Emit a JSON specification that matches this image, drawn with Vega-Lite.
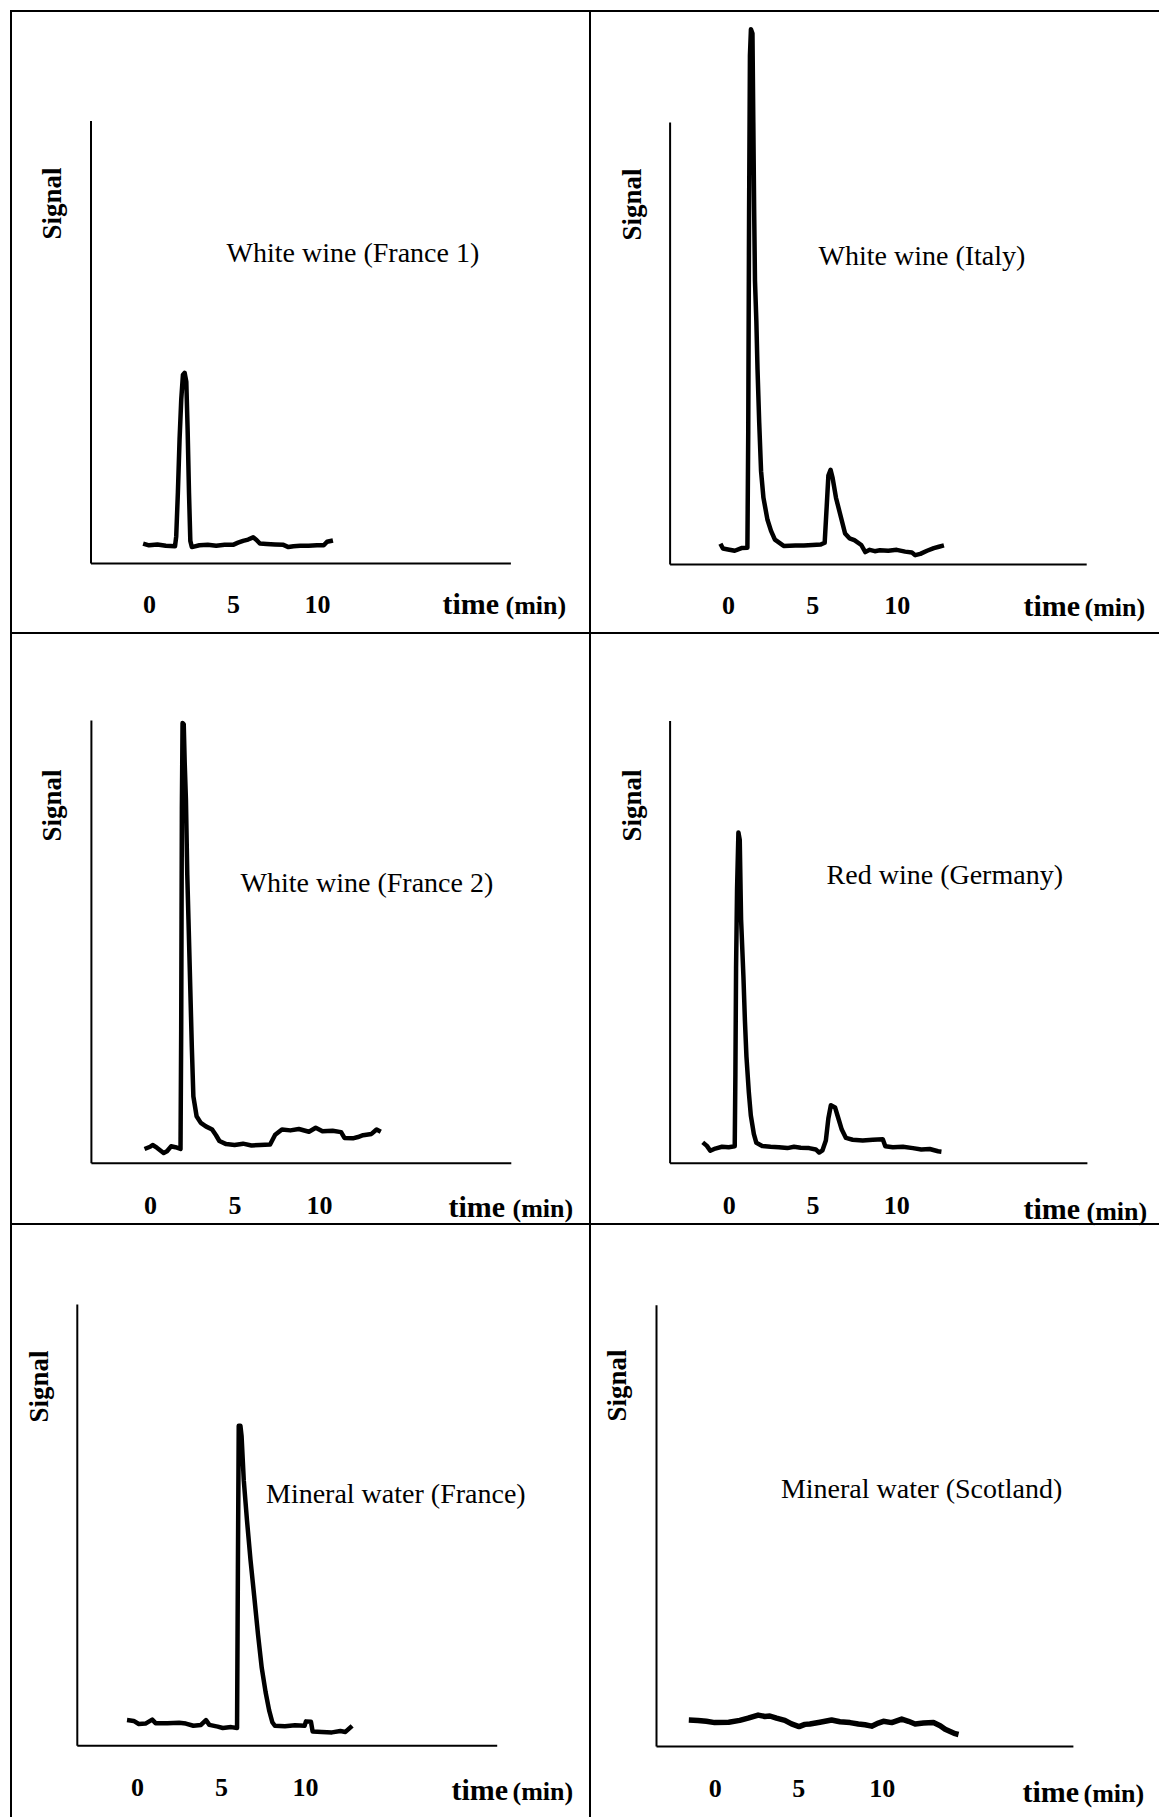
{
  "$schema": "https://vega.github.io/schema/vega-lite/v6.json",
  "padding": {"left": 10, "top": 10, "right": 0, "bottom": 0},
  "background": "white",
  "columns": 2,
  "spacing": 0,
  "bounds": "flush",
  "align": "each",
  "config": {"view": {"stroke": "black", "strokeWidth": 2}},
  "datasets": {
    "chrom": [
      {"sample": "White wine (France 1)", "t": -0.35, "s": 4.4},
      {"sample": "White wine (France 1)", "t": 0.0, "s": 4.0},
      {"sample": "White wine (France 1)", "t": 0.5, "s": 4.2},
      {"sample": "White wine (France 1)", "t": 1.0, "s": 3.9},
      {"sample": "White wine (France 1)", "t": 1.55, "s": 3.8},
      {"sample": "White wine (France 1)", "t": 1.62, "s": 6},
      {"sample": "White wine (France 1)", "t": 1.72, "s": 16},
      {"sample": "White wine (France 1)", "t": 1.82, "s": 28},
      {"sample": "White wine (France 1)", "t": 1.92, "s": 37},
      {"sample": "White wine (France 1)", "t": 2.02, "s": 42.5},
      {"sample": "White wine (France 1)", "t": 2.12, "s": 43},
      {"sample": "White wine (France 1)", "t": 2.22, "s": 41},
      {"sample": "White wine (France 1)", "t": 2.3, "s": 30},
      {"sample": "White wine (France 1)", "t": 2.38, "s": 16},
      {"sample": "White wine (France 1)", "t": 2.46, "s": 5},
      {"sample": "White wine (France 1)", "t": 2.55, "s": 3.6},
      {"sample": "White wine (France 1)", "t": 3.0, "s": 4.0},
      {"sample": "White wine (France 1)", "t": 3.5, "s": 4.1},
      {"sample": "White wine (France 1)", "t": 4.0, "s": 3.9},
      {"sample": "White wine (France 1)", "t": 4.5, "s": 4.1},
      {"sample": "White wine (France 1)", "t": 5.0, "s": 4.1},
      {"sample": "White wine (France 1)", "t": 5.3, "s": 4.6},
      {"sample": "White wine (France 1)", "t": 5.6, "s": 5.0},
      {"sample": "White wine (France 1)", "t": 5.9, "s": 5.3},
      {"sample": "White wine (France 1)", "t": 6.2, "s": 5.8},
      {"sample": "White wine (France 1)", "t": 6.4, "s": 5.2},
      {"sample": "White wine (France 1)", "t": 6.6, "s": 4.4},
      {"sample": "White wine (France 1)", "t": 7.0, "s": 4.3},
      {"sample": "White wine (France 1)", "t": 7.5, "s": 4.2},
      {"sample": "White wine (France 1)", "t": 8.0, "s": 4.1},
      {"sample": "White wine (France 1)", "t": 8.3, "s": 3.6},
      {"sample": "White wine (France 1)", "t": 8.6, "s": 3.8},
      {"sample": "White wine (France 1)", "t": 9.0, "s": 3.9},
      {"sample": "White wine (France 1)", "t": 9.5, "s": 3.9},
      {"sample": "White wine (France 1)", "t": 10.0, "s": 4.0},
      {"sample": "White wine (France 1)", "t": 10.4, "s": 4.0},
      {"sample": "White wine (France 1)", "t": 10.6, "s": 4.8},
      {"sample": "White wine (France 1)", "t": 10.95, "s": 5.1},

      {"sample": "White wine (Italy)", "t": -0.45, "s": 4.6},
      {"sample": "White wine (Italy)", "t": -0.3, "s": 3.5},
      {"sample": "White wine (Italy)", "t": 0.0, "s": 3.3},
      {"sample": "White wine (Italy)", "t": 0.4, "s": 3.0},
      {"sample": "White wine (Italy)", "t": 0.8, "s": 3.6},
      {"sample": "White wine (Italy)", "t": 1.15, "s": 3.7},
      {"sample": "White wine (Italy)", "t": 1.2, "s": 30},
      {"sample": "White wine (Italy)", "t": 1.25, "s": 80},
      {"sample": "White wine (Italy)", "t": 1.3, "s": 115},
      {"sample": "White wine (Italy)", "t": 1.36, "s": 121},
      {"sample": "White wine (Italy)", "t": 1.45, "s": 120},
      {"sample": "White wine (Italy)", "t": 1.5, "s": 100},
      {"sample": "White wine (Italy)", "t": 1.55, "s": 80},
      {"sample": "White wine (Italy)", "t": 1.6, "s": 64},
      {"sample": "White wine (Italy)", "t": 1.68, "s": 55},
      {"sample": "White wine (Italy)", "t": 1.75, "s": 44},
      {"sample": "White wine (Italy)", "t": 1.85, "s": 32},
      {"sample": "White wine (Italy)", "t": 1.96, "s": 21},
      {"sample": "White wine (Italy)", "t": 2.1, "s": 15},
      {"sample": "White wine (Italy)", "t": 2.34, "s": 10},
      {"sample": "White wine (Italy)", "t": 2.55, "s": 7.5},
      {"sample": "White wine (Italy)", "t": 2.78, "s": 5.5},
      {"sample": "White wine (Italy)", "t": 3.3, "s": 4.1},
      {"sample": "White wine (Italy)", "t": 4.0, "s": 4.2},
      {"sample": "White wine (Italy)", "t": 4.5, "s": 4.2},
      {"sample": "White wine (Italy)", "t": 5.0, "s": 4.3},
      {"sample": "White wine (Italy)", "t": 5.5, "s": 4.4},
      {"sample": "White wine (Italy)", "t": 5.73, "s": 4.8},
      {"sample": "White wine (Italy)", "t": 5.85, "s": 13},
      {"sample": "White wine (Italy)", "t": 5.95, "s": 20},
      {"sample": "White wine (Italy)", "t": 6.08, "s": 21.3},
      {"sample": "White wine (Italy)", "t": 6.2, "s": 19.5},
      {"sample": "White wine (Italy)", "t": 6.4, "s": 15},
      {"sample": "White wine (Italy)", "t": 6.6, "s": 12},
      {"sample": "White wine (Italy)", "t": 6.94, "s": 6.9},
      {"sample": "White wine (Italy)", "t": 7.2, "s": 5.8},
      {"sample": "White wine (Italy)", "t": 7.49, "s": 5.4},
      {"sample": "White wine (Italy)", "t": 7.9, "s": 4.3},
      {"sample": "White wine (Italy)", "t": 8.14, "s": 2.7},
      {"sample": "White wine (Italy)", "t": 8.4, "s": 3.2},
      {"sample": "White wine (Italy)", "t": 8.7, "s": 2.9},
      {"sample": "White wine (Italy)", "t": 9.0, "s": 3.1},
      {"sample": "White wine (Italy)", "t": 9.5, "s": 3.0},
      {"sample": "White wine (Italy)", "t": 10.0, "s": 3.2},
      {"sample": "White wine (Italy)", "t": 10.5, "s": 2.8},
      {"sample": "White wine (Italy)", "t": 10.9, "s": 2.6},
      {"sample": "White wine (Italy)", "t": 11.1, "s": 2.0},
      {"sample": "White wine (Italy)", "t": 11.4, "s": 2.3},
      {"sample": "White wine (Italy)", "t": 11.8, "s": 3.0},
      {"sample": "White wine (Italy)", "t": 12.2, "s": 3.6},
      {"sample": "White wine (Italy)", "t": 12.5, "s": 3.9},
      {"sample": "White wine (Italy)", "t": 12.8, "s": 4.2},

      {"sample": "White wine (France 2)", "t": -0.33, "s": 3.1},
      {"sample": "White wine (France 2)", "t": 0.0, "s": 3.6},
      {"sample": "White wine (France 2)", "t": 0.15, "s": 4.0},
      {"sample": "White wine (France 2)", "t": 0.4, "s": 3.4},
      {"sample": "White wine (France 2)", "t": 0.8, "s": 2.2},
      {"sample": "White wine (France 2)", "t": 1.0, "s": 2.6},
      {"sample": "White wine (France 2)", "t": 1.24, "s": 3.7},
      {"sample": "White wine (France 2)", "t": 1.5, "s": 3.5},
      {"sample": "White wine (France 2)", "t": 1.8, "s": 3.1},
      {"sample": "White wine (France 2)", "t": 1.84, "s": 30},
      {"sample": "White wine (France 2)", "t": 1.88, "s": 80},
      {"sample": "White wine (France 2)", "t": 1.92, "s": 99.3},
      {"sample": "White wine (France 2)", "t": 1.99, "s": 99},
      {"sample": "White wine (France 2)", "t": 2.05, "s": 90},
      {"sample": "White wine (France 2)", "t": 2.12, "s": 82},
      {"sample": "White wine (France 2)", "t": 2.2, "s": 65},
      {"sample": "White wine (France 2)", "t": 2.27, "s": 55},
      {"sample": "White wine (France 2)", "t": 2.38, "s": 39},
      {"sample": "White wine (France 2)", "t": 2.47, "s": 26},
      {"sample": "White wine (France 2)", "t": 2.56, "s": 15},
      {"sample": "White wine (France 2)", "t": 2.75, "s": 10.5},
      {"sample": "White wine (France 2)", "t": 3.0, "s": 9},
      {"sample": "White wine (France 2)", "t": 3.3, "s": 8.2},
      {"sample": "White wine (France 2)", "t": 3.67, "s": 7.5},
      {"sample": "White wine (France 2)", "t": 3.9, "s": 6.2},
      {"sample": "White wine (France 2)", "t": 4.1, "s": 4.9},
      {"sample": "White wine (France 2)", "t": 4.5, "s": 4.2},
      {"sample": "White wine (France 2)", "t": 5.0, "s": 4.0},
      {"sample": "White wine (France 2)", "t": 5.5, "s": 4.3},
      {"sample": "White wine (France 2)", "t": 6.0, "s": 3.9},
      {"sample": "White wine (France 2)", "t": 6.5, "s": 4.0},
      {"sample": "White wine (France 2)", "t": 7.1, "s": 4.1},
      {"sample": "White wine (France 2)", "t": 7.4, "s": 6.3},
      {"sample": "White wine (France 2)", "t": 7.8, "s": 7.5},
      {"sample": "White wine (France 2)", "t": 8.3, "s": 7.3},
      {"sample": "White wine (France 2)", "t": 8.8, "s": 7.6},
      {"sample": "White wine (France 2)", "t": 9.4, "s": 7.0},
      {"sample": "White wine (France 2)", "t": 9.8, "s": 7.9},
      {"sample": "White wine (France 2)", "t": 10.2, "s": 7.1},
      {"sample": "White wine (France 2)", "t": 10.8, "s": 7.2},
      {"sample": "White wine (France 2)", "t": 11.3, "s": 6.9},
      {"sample": "White wine (France 2)", "t": 11.5, "s": 5.6},
      {"sample": "White wine (France 2)", "t": 12.0, "s": 5.5},
      {"sample": "White wine (France 2)", "t": 12.3, "s": 5.8},
      {"sample": "White wine (France 2)", "t": 12.6, "s": 6.2},
      {"sample": "White wine (France 2)", "t": 13.1, "s": 6.5},
      {"sample": "White wine (France 2)", "t": 13.4, "s": 7.5},
      {"sample": "White wine (France 2)", "t": 13.65, "s": 7.0},

      {"sample": "Red wine (Germany)", "t": -1.55, "s": 4.6},
      {"sample": "Red wine (Germany)", "t": -1.3, "s": 3.8},
      {"sample": "Red wine (Germany)", "t": -1.1, "s": 2.7},
      {"sample": "Red wine (Germany)", "t": -0.8, "s": 3.2},
      {"sample": "Red wine (Germany)", "t": -0.4, "s": 3.6},
      {"sample": "Red wine (Germany)", "t": 0.0, "s": 3.5},
      {"sample": "Red wine (Germany)", "t": 0.36, "s": 3.7},
      {"sample": "Red wine (Germany)", "t": 0.4, "s": 20},
      {"sample": "Red wine (Germany)", "t": 0.44, "s": 44},
      {"sample": "Red wine (Germany)", "t": 0.5, "s": 62},
      {"sample": "Red wine (Germany)", "t": 0.58, "s": 74.7},
      {"sample": "Red wine (Germany)", "t": 0.66, "s": 73},
      {"sample": "Red wine (Germany)", "t": 0.74, "s": 55},
      {"sample": "Red wine (Germany)", "t": 0.88, "s": 42},
      {"sample": "Red wine (Germany)", "t": 0.97, "s": 32},
      {"sample": "Red wine (Germany)", "t": 1.06, "s": 24},
      {"sample": "Red wine (Germany)", "t": 1.2, "s": 16},
      {"sample": "Red wine (Germany)", "t": 1.32, "s": 10.7},
      {"sample": "Red wine (Germany)", "t": 1.5, "s": 6.5},
      {"sample": "Red wine (Germany)", "t": 1.65, "s": 4.5},
      {"sample": "Red wine (Germany)", "t": 2.0, "s": 3.8},
      {"sample": "Red wine (Germany)", "t": 2.5, "s": 3.6},
      {"sample": "Red wine (Germany)", "t": 3.0, "s": 3.5},
      {"sample": "Red wine (Germany)", "t": 3.5, "s": 3.3},
      {"sample": "Red wine (Germany)", "t": 3.9, "s": 3.6},
      {"sample": "Red wine (Germany)", "t": 4.3, "s": 3.4},
      {"sample": "Red wine (Germany)", "t": 4.8, "s": 3.3},
      {"sample": "Red wine (Germany)", "t": 5.2, "s": 3.0},
      {"sample": "Red wine (Germany)", "t": 5.4, "s": 2.3},
      {"sample": "Red wine (Germany)", "t": 5.6, "s": 2.8},
      {"sample": "Red wine (Germany)", "t": 5.8, "s": 5},
      {"sample": "Red wine (Germany)", "t": 5.95, "s": 10},
      {"sample": "Red wine (Germany)", "t": 6.1, "s": 13},
      {"sample": "Red wine (Germany)", "t": 6.35, "s": 12.5},
      {"sample": "Red wine (Germany)", "t": 6.55, "s": 10},
      {"sample": "Red wine (Germany)", "t": 6.75, "s": 7.5},
      {"sample": "Red wine (Germany)", "t": 7.0, "s": 5.6},
      {"sample": "Red wine (Germany)", "t": 7.4, "s": 5.2},
      {"sample": "Red wine (Germany)", "t": 8.0, "s": 5.0},
      {"sample": "Red wine (Germany)", "t": 8.6, "s": 5.2},
      {"sample": "Red wine (Germany)", "t": 9.2, "s": 5.3},
      {"sample": "Red wine (Germany)", "t": 9.35, "s": 3.7},
      {"sample": "Red wine (Germany)", "t": 9.8, "s": 3.5},
      {"sample": "Red wine (Germany)", "t": 10.4, "s": 3.6},
      {"sample": "Red wine (Germany)", "t": 11.0, "s": 3.3},
      {"sample": "Red wine (Germany)", "t": 11.5, "s": 3.0},
      {"sample": "Red wine (Germany)", "t": 12.0, "s": 3.1},
      {"sample": "Red wine (Germany)", "t": 12.5, "s": 2.6},
      {"sample": "Red wine (Germany)", "t": 12.7, "s": 2.5},

      {"sample": "Mineral water (France)", "t": -0.6, "s": 5.7},
      {"sample": "Mineral water (France)", "t": -0.2, "s": 5.5},
      {"sample": "Mineral water (France)", "t": 0.1, "s": 4.8},
      {"sample": "Mineral water (France)", "t": 0.5, "s": 4.9},
      {"sample": "Mineral water (France)", "t": 0.9, "s": 5.8},
      {"sample": "Mineral water (France)", "t": 1.1, "s": 5.0},
      {"sample": "Mineral water (France)", "t": 1.8, "s": 5.0},
      {"sample": "Mineral water (France)", "t": 2.5, "s": 5.1},
      {"sample": "Mineral water (France)", "t": 2.9, "s": 4.9},
      {"sample": "Mineral water (France)", "t": 3.35, "s": 4.4},
      {"sample": "Mineral water (France)", "t": 3.8, "s": 4.6},
      {"sample": "Mineral water (France)", "t": 4.1, "s": 5.7},
      {"sample": "Mineral water (France)", "t": 4.3, "s": 4.6},
      {"sample": "Mineral water (France)", "t": 4.8, "s": 4.2},
      {"sample": "Mineral water (France)", "t": 5.1, "s": 3.9},
      {"sample": "Mineral water (France)", "t": 5.6, "s": 4.1},
      {"sample": "Mineral water (France)", "t": 5.95, "s": 3.9},
      {"sample": "Mineral water (France)", "t": 6.0, "s": 40},
      {"sample": "Mineral water (France)", "t": 6.05, "s": 72.4},
      {"sample": "Mineral water (France)", "t": 6.15, "s": 72.4},
      {"sample": "Mineral water (France)", "t": 6.22, "s": 70},
      {"sample": "Mineral water (France)", "t": 6.35, "s": 60},
      {"sample": "Mineral water (France)", "t": 6.54, "s": 51},
      {"sample": "Mineral water (France)", "t": 6.75, "s": 42},
      {"sample": "Mineral water (France)", "t": 6.98, "s": 33.4},
      {"sample": "Mineral water (France)", "t": 7.2, "s": 25},
      {"sample": "Mineral water (France)", "t": 7.42, "s": 17.5},
      {"sample": "Mineral water (France)", "t": 7.65, "s": 12},
      {"sample": "Mineral water (France)", "t": 7.86, "s": 7.9},
      {"sample": "Mineral water (France)", "t": 8.05, "s": 5.2},
      {"sample": "Mineral water (France)", "t": 8.2, "s": 4.4},
      {"sample": "Mineral water (France)", "t": 8.8, "s": 4.3},
      {"sample": "Mineral water (France)", "t": 9.4, "s": 4.5},
      {"sample": "Mineral water (France)", "t": 9.97, "s": 4.4},
      {"sample": "Mineral water (France)", "t": 10.05, "s": 5.4},
      {"sample": "Mineral water (France)", "t": 10.35, "s": 5.3},
      {"sample": "Mineral water (France)", "t": 10.45, "s": 3.1},
      {"sample": "Mineral water (France)", "t": 11.0, "s": 3.0},
      {"sample": "Mineral water (France)", "t": 11.6, "s": 2.9},
      {"sample": "Mineral water (France)", "t": 12.1, "s": 3.2},
      {"sample": "Mineral water (France)", "t": 12.4, "s": 3.0},
      {"sample": "Mineral water (France)", "t": 12.8, "s": 4.4},

      {"sample": "Mineral water (Scotland)", "t": -1.55, "s": 5.9},
      {"sample": "Mineral water (Scotland)", "t": -1.0, "s": 5.8},
      {"sample": "Mineral water (Scotland)", "t": -0.5, "s": 5.6},
      {"sample": "Mineral water (Scotland)", "t": 0.0, "s": 5.3},
      {"sample": "Mineral water (Scotland)", "t": 0.84, "s": 5.4},
      {"sample": "Mineral water (Scotland)", "t": 1.5, "s": 5.8},
      {"sample": "Mineral water (Scotland)", "t": 2.0, "s": 6.3},
      {"sample": "Mineral water (Scotland)", "t": 2.6, "s": 7.0},
      {"sample": "Mineral water (Scotland)", "t": 3.0, "s": 6.7},
      {"sample": "Mineral water (Scotland)", "t": 3.3, "s": 6.8},
      {"sample": "Mineral water (Scotland)", "t": 3.7, "s": 6.3},
      {"sample": "Mineral water (Scotland)", "t": 4.2, "s": 5.8},
      {"sample": "Mineral water (Scotland)", "t": 4.6, "s": 5.0},
      {"sample": "Mineral water (Scotland)", "t": 5.05, "s": 4.4},
      {"sample": "Mineral water (Scotland)", "t": 5.4, "s": 4.9},
      {"sample": "Mineral water (Scotland)", "t": 5.7, "s": 5.0},
      {"sample": "Mineral water (Scotland)", "t": 6.3, "s": 5.4},
      {"sample": "Mineral water (Scotland)", "t": 7.0, "s": 5.9},
      {"sample": "Mineral water (Scotland)", "t": 7.5, "s": 5.5},
      {"sample": "Mineral water (Scotland)", "t": 8.1, "s": 5.3},
      {"sample": "Mineral water (Scotland)", "t": 8.6, "s": 5.0},
      {"sample": "Mineral water (Scotland)", "t": 9.0, "s": 4.8},
      {"sample": "Mineral water (Scotland)", "t": 9.4, "s": 4.5},
      {"sample": "Mineral water (Scotland)", "t": 9.8, "s": 5.2},
      {"sample": "Mineral water (Scotland)", "t": 10.1, "s": 5.6},
      {"sample": "Mineral water (Scotland)", "t": 10.6, "s": 5.3},
      {"sample": "Mineral water (Scotland)", "t": 11.2, "s": 6.1},
      {"sample": "Mineral water (Scotland)", "t": 11.6, "s": 5.6},
      {"sample": "Mineral water (Scotland)", "t": 12.0, "s": 5.0},
      {"sample": "Mineral water (Scotland)", "t": 12.5, "s": 5.2},
      {"sample": "Mineral water (Scotland)", "t": 13.1, "s": 5.3},
      {"sample": "Mineral water (Scotland)", "t": 13.5, "s": 4.6},
      {"sample": "Mineral water (Scotland)", "t": 13.8, "s": 3.8},
      {"sample": "Mineral water (Scotland)", "t": 14.1, "s": 3.3},
      {"sample": "Mineral water (Scotland)", "t": 14.4, "s": 2.8},
      {"sample": "Mineral water (Scotland)", "t": 14.6, "s": 2.6}
    ]
  },
  "concat": [
    {
      "width": 579, "height": 622,
      "data": {"name": "chrom"},
      "transform": [{"filter": "datum.sample === 'White wine (France 1)'"}],
      "resolve": {"axis": {"x": "independent"}},
      "layer": [
        {
          "mark": {"type": "line", "color": "black", "strokeWidth": 4.5, "strokeJoin": "round", "clip": false},
          "encoding": {
            "x": {"field": "t", "type": "quantitative",
              "scale": {"domain": [-3.482, 21.512], "range": [79.5, 499.4], "nice": false, "zero": false},
              "axis": {"orient": "bottom", "offset": -70, "values": [0, 5, 10], "ticks": false, "grid": false, "domainColor": "black", "domainWidth": 2,
                "labelFont": "Liberation Serif", "labelFontWeight": "bold", "labelFontSize": 26, "labelColor": "black", "labelBaseline": "middle", "labelPadding": 41, "labelFlush": false, "labelOverlap": false,
                "title": "time", "titleFont": "Liberation Serif", "titleFontWeight": "bold", "titleFontSize": 30, "titleColor": "black", "titleX": 431, "titleY": 50, "titleAlign": "left", "titleBaseline": "alphabetic"}},
            "y": {"field": "s", "type": "quantitative",
              "scale": {"domain": [0, 100], "range": [552, 109.6], "nice": false, "zero": false},
              "axis": {"orient": "left", "offset": -79.5, "labels": false, "ticks": false, "grid": false, "domainColor": "black", "domainWidth": 2,
                "title": "Signal", "titleFont": "Liberation Serif", "titleFontWeight": "bold", "titleFontSize": 27, "titleColor": "black", "titleAngle": 270, "titleX": -37.7, "titleY": 192, "titleAlign": "center", "titleBaseline": "middle"}}
          }
        },
        {
          "transform": [{"aggregate": [{"op": "count", "as": "n"}], "groupby": ["sample"]}],
          "mark": {"type": "text", "font": "Liberation Serif", "fontSize": 28, "color": "black", "align": "center", "baseline": "middle"},
          "encoding": {
            "x": {"datum": 12.14, "type": "quantitative",
              "axis": {"orient": "bottom", "offset": -70, "domain": false, "labels": false, "ticks": false, "grid": false,
                "title": "(min)", "titleFont": "Liberation Serif", "titleFontWeight": "bold", "titleFontSize": 26, "titleColor": "black", "titleX": 494, "titleY": 50, "titleAlign": "left", "titleBaseline": "alphabetic"}},
            "y": {"datum": 69.85, "type": "quantitative"},
            "text": {"field": "sample"}
          }
        }
      ]
    },
    {
      "width": 575, "height": 622,
      "data": {"name": "chrom"},
      "transform": [{"filter": "datum.sample === 'White wine (Italy)'"}],
      "resolve": {"axis": {"x": "independent"}},
      "layer": [
        {
          "mark": {"type": "line", "color": "black", "strokeWidth": 4.5, "strokeJoin": "round", "clip": false},
          "encoding": {
            "x": {"field": "t", "type": "quantitative",
              "scale": {"domain": [-3.462, 21.233], "range": [79.6, 496.2], "nice": false, "zero": false},
              "axis": {"orient": "bottom", "offset": -69, "values": [0, 5, 10], "ticks": false, "grid": false, "domainColor": "black", "domainWidth": 2,
                "labelFont": "Liberation Serif", "labelFontWeight": "bold", "labelFontSize": 26, "labelColor": "black", "labelBaseline": "middle", "labelPadding": 41, "labelFlush": false, "labelOverlap": false,
                "title": "time", "titleFont": "Liberation Serif", "titleFontWeight": "bold", "titleFontSize": 30, "titleColor": "black", "titleX": 433, "titleY": 51, "titleAlign": "left", "titleBaseline": "alphabetic"}},
            "y": {"field": "s", "type": "quantitative",
              "scale": {"domain": [0, 100], "range": [553, 111], "nice": false, "zero": false},
              "axis": {"orient": "left", "offset": -79.6, "labels": false, "ticks": false, "grid": false, "domainColor": "black", "domainWidth": 2,
                "title": "Signal", "titleFont": "Liberation Serif", "titleFontWeight": "bold", "titleFontSize": 27, "titleColor": "black", "titleAngle": 270, "titleX": -36.9, "titleY": 193, "titleAlign": "center", "titleBaseline": "middle"}}
          }
        },
        {
          "transform": [{"aggregate": [{"op": "count", "as": "n"}], "groupby": ["sample"]}],
          "mark": {"type": "text", "font": "Liberation Serif", "fontSize": 28, "color": "black", "align": "center", "baseline": "middle"},
          "encoding": {
            "x": {"datum": 11.5, "type": "quantitative",
              "axis": {"orient": "bottom", "offset": -69, "domain": false, "labels": false, "ticks": false, "grid": false,
                "title": "(min)", "titleFont": "Liberation Serif", "titleFontWeight": "bold", "titleFontSize": 26, "titleColor": "black", "titleX": 494, "titleY": 51, "titleAlign": "left", "titleBaseline": "alphabetic"}},
            "y": {"datum": 69.5, "type": "quantitative"},
            "text": {"field": "sample"}
          }
        }
      ]
    },
    {
      "width": 579, "height": 591,
      "data": {"name": "chrom"},
      "transform": [{"filter": "datum.sample === 'White wine (France 2)'"}],
      "resolve": {"axis": {"x": "independent"}},
      "layer": [
        {
          "mark": {"type": "line", "color": "black", "strokeWidth": 4.5, "strokeJoin": "round", "clip": false},
          "encoding": {
            "x": {"field": "t", "type": "quantitative",
              "scale": {"domain": [-3.503, 21.343], "range": [79.9, 499.8], "nice": false, "zero": false},
              "axis": {"orient": "bottom", "offset": -61.3, "values": [0, 5, 10], "ticks": false, "grid": false, "domainColor": "black", "domainWidth": 2,
                "labelFont": "Liberation Serif", "labelFontWeight": "bold", "labelFontSize": 26, "labelColor": "black", "labelBaseline": "middle", "labelPadding": 42.5, "labelFlush": false, "labelOverlap": false,
                "title": "time", "titleFont": "Liberation Serif", "titleFontWeight": "bold", "titleFontSize": 30, "titleColor": "black", "titleX": 437, "titleY": 53.3, "titleAlign": "left", "titleBaseline": "alphabetic"}},
            "y": {"field": "s", "type": "quantitative",
              "scale": {"domain": [0, 100], "range": [529.7, 86.9], "nice": false, "zero": false},
              "axis": {"orient": "left", "offset": -79.9, "labels": false, "ticks": false, "grid": false, "domainColor": "black", "domainWidth": 2,
                "title": "Signal", "titleFont": "Liberation Serif", "titleFontWeight": "bold", "titleFontSize": 27, "titleColor": "black", "titleAngle": 270, "titleX": -38.1, "titleY": 171.9, "titleAlign": "center", "titleBaseline": "middle"}}
          }
        },
        {
          "transform": [{"aggregate": [{"op": "count", "as": "n"}], "groupby": ["sample"]}],
          "mark": {"type": "text", "font": "Liberation Serif", "fontSize": 28, "color": "black", "align": "center", "baseline": "middle"},
          "encoding": {
            "x": {"datum": 12.83, "type": "quantitative",
              "axis": {"orient": "bottom", "offset": -61.3, "domain": false, "labels": false, "ticks": false, "grid": false,
                "title": "(min)", "titleFont": "Liberation Serif", "titleFontWeight": "bold", "titleFontSize": 26, "titleColor": "black", "titleX": 501, "titleY": 53.3, "titleAlign": "left", "titleBaseline": "alphabetic"}},
            "y": {"datum": 62.9, "type": "quantitative"},
            "text": {"field": "sample"}
          }
        }
      ]
    },
    {
      "width": 575, "height": 591,
      "data": {"name": "chrom"},
      "transform": [{"filter": "datum.sample === 'Red wine (Germany)'"}],
      "resolve": {"axis": {"x": "independent"}},
      "layer": [
        {
          "mark": {"type": "line", "color": "black", "strokeWidth": 4.5, "strokeJoin": "round", "clip": false},
          "encoding": {
            "x": {"field": "t", "type": "quantitative",
              "scale": {"domain": [-3.528, 21.385], "range": [79.6, 496.9], "nice": false, "zero": false},
              "axis": {"orient": "bottom", "offset": -61.3, "values": [0, 5, 10], "ticks": false, "grid": false, "domainColor": "black", "domainWidth": 2,
                "labelFont": "Liberation Serif", "labelFontWeight": "bold", "labelFontSize": 26, "labelColor": "black", "labelBaseline": "middle", "labelPadding": 42.5, "labelFlush": false, "labelOverlap": false,
                "title": "time", "titleFont": "Liberation Serif", "titleFontWeight": "bold", "titleFontSize": 30, "titleColor": "black", "titleX": 433, "titleY": 55.3, "titleAlign": "left", "titleBaseline": "alphabetic"}},
            "y": {"field": "s", "type": "quantitative",
              "scale": {"domain": [0, 100], "range": [529.7, 87.6], "nice": false, "zero": false},
              "axis": {"orient": "left", "offset": -79.6, "labels": false, "ticks": false, "grid": false, "domainColor": "black", "domainWidth": 2,
                "title": "Signal", "titleFont": "Liberation Serif", "titleFontWeight": "bold", "titleFontSize": 27, "titleColor": "black", "titleAngle": 270, "titleX": -36.9, "titleY": 171.9, "titleAlign": "center", "titleBaseline": "middle"}}
          }
        },
        {
          "transform": [{"aggregate": [{"op": "count", "as": "n"}], "groupby": ["sample"]}],
          "mark": {"type": "text", "font": "Liberation Serif", "fontSize": 28, "color": "black", "align": "center", "baseline": "middle"},
          "encoding": {
            "x": {"datum": 12.9, "type": "quantitative",
              "axis": {"orient": "bottom", "offset": -61.3, "domain": false, "labels": false, "ticks": false, "grid": false,
                "title": "(min)", "titleFont": "Liberation Serif", "titleFontWeight": "bold", "titleFontSize": 26, "titleColor": "black", "titleX": 496, "titleY": 57, "titleAlign": "left", "titleBaseline": "alphabetic"}},
            "y": {"datum": 64.85, "type": "quantitative"},
            "text": {"field": "sample"}
          }
        }
      ]
    },
    {
      "width": 579, "height": 600,
      "data": {"name": "chrom"},
      "transform": [{"filter": "datum.sample === 'Mineral water (France)'"}],
      "resolve": {"axis": {"x": "independent"}},
      "layer": [
        {
          "mark": {"type": "line", "color": "black", "strokeWidth": 4.5, "strokeJoin": "round", "clip": false},
          "encoding": {
            "x": {"field": "t", "type": "quantitative",
              "scale": {"domain": [-3.589, 21.405], "range": [65.8, 485.7], "nice": false, "zero": false},
              "axis": {"orient": "bottom", "offset": -78.8, "values": [0, 5, 10], "ticks": false, "grid": false, "domainColor": "black", "domainWidth": 2,
                "labelFont": "Liberation Serif", "labelFontWeight": "bold", "labelFontSize": 26, "labelColor": "black", "labelBaseline": "middle", "labelPadding": 42.5, "labelFlush": false, "labelOverlap": false,
                "title": "time", "titleFont": "Liberation Serif", "titleFontWeight": "bold", "titleFontSize": 30, "titleColor": "black", "titleX": 440, "titleY": 54.3, "titleAlign": "left", "titleBaseline": "alphabetic"}},
            "y": {"field": "s", "type": "quantitative",
              "scale": {"domain": [0, 100], "range": [521.2, 79.9], "nice": false, "zero": false},
              "axis": {"orient": "left", "offset": -65.8, "labels": false, "ticks": false, "grid": false, "domainColor": "black", "domainWidth": 2,
                "title": "Signal", "titleFont": "Liberation Serif", "titleFontWeight": "bold", "titleFontSize": 27, "titleColor": "black", "titleAngle": 270, "titleX": -37, "titleY": 162, "titleAlign": "center", "titleBaseline": "middle"}}
          }
        },
        {
          "transform": [{"aggregate": [{"op": "count", "as": "n"}], "groupby": ["sample"]}],
          "mark": {"type": "text", "font": "Liberation Serif", "fontSize": 28, "color": "black", "align": "center", "baseline": "middle"},
          "encoding": {
            "x": {"datum": 15.4, "type": "quantitative",
              "axis": {"orient": "bottom", "offset": -78.8, "domain": false, "labels": false, "ticks": false, "grid": false,
                "title": "(min)", "titleFont": "Liberation Serif", "titleFontWeight": "bold", "titleFontSize": 26, "titleColor": "black", "titleX": 501, "titleY": 54.3, "titleAlign": "left", "titleBaseline": "alphabetic"}},
            "y": {"datum": 56.6, "type": "quantitative"},
            "text": {"field": "sample"}
          }
        }
      ]
    },
    {
      "width": 575, "height": 600,
      "data": {"name": "chrom"},
      "transform": [{"filter": "datum.sample === 'Mineral water (Scotland)'"}],
      "resolve": {"axis": {"x": "independent"}},
      "layer": [
        {
          "mark": {"type": "line", "color": "black", "strokeWidth": 5.5, "strokeJoin": "round", "clip": false},
          "encoding": {
            "x": {"field": "t", "type": "quantitative",
              "scale": {"domain": [-3.515, 21.449], "range": [66, 482.9], "nice": false, "zero": false},
              "axis": {"orient": "bottom", "offset": -78, "values": [0, 5, 10], "ticks": false, "grid": false, "domainColor": "black", "domainWidth": 2,
                "labelFont": "Liberation Serif", "labelFontWeight": "bold", "labelFontSize": 26, "labelColor": "black", "labelBaseline": "middle", "labelPadding": 42, "labelFlush": false, "labelOverlap": false,
                "title": "time", "titleFont": "Liberation Serif", "titleFontWeight": "bold", "titleFontSize": 30, "titleColor": "black", "titleX": 432, "titleY": 55, "titleAlign": "left", "titleBaseline": "alphabetic"}},
            "y": {"field": "s", "type": "quantitative",
              "scale": {"domain": [0, 100], "range": [522, 80.7], "nice": false, "zero": false},
              "axis": {"orient": "left", "offset": -66, "labels": false, "ticks": false, "grid": false, "domainColor": "black", "domainWidth": 2,
                "title": "Signal", "titleFont": "Liberation Serif", "titleFontWeight": "bold", "titleFontSize": 27, "titleColor": "black", "titleAngle": 270, "titleX": -38.1, "titleY": 161, "titleAlign": "center", "titleBaseline": "middle"}}
          }
        },
        {
          "transform": [{"aggregate": [{"op": "count", "as": "n"}], "groupby": ["sample"]}],
          "mark": {"type": "text", "font": "Liberation Serif", "fontSize": 28, "color": "black", "align": "center", "baseline": "middle"},
          "encoding": {
            "x": {"datum": 12.39, "type": "quantitative",
              "axis": {"orient": "bottom", "offset": -78, "domain": false, "labels": false, "ticks": false, "grid": false,
                "title": "(min)", "titleFont": "Liberation Serif", "titleFontWeight": "bold", "titleFontSize": 26, "titleColor": "black", "titleX": 493, "titleY": 55, "titleAlign": "left", "titleBaseline": "alphabetic"}},
            "y": {"datum": 58.1, "type": "quantitative"},
            "text": {"field": "sample"}
          }
        }
      ]
    }
  ]
}
